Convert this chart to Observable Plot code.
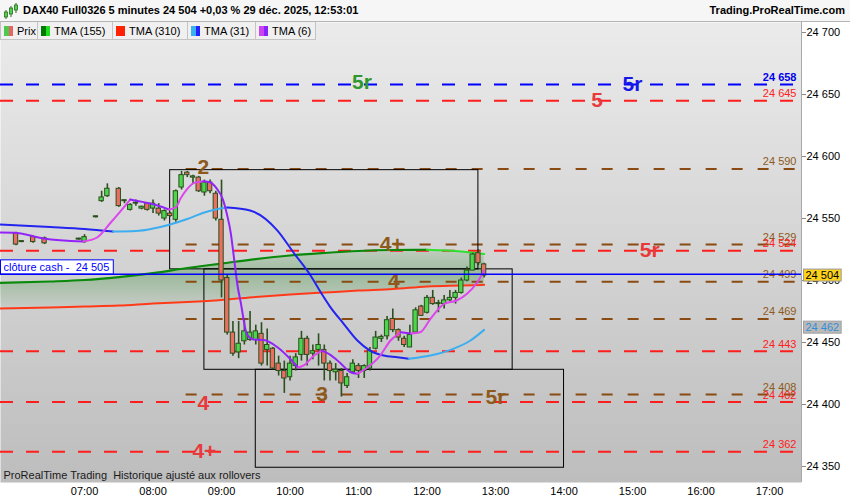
<!DOCTYPE html>
<html lang="fr">
<head>
<meta charset="utf-8">
<script src="https://cdn.jsdelivr.net/npm/d3@7"></script>
<script src="https://cdn.jsdelivr.net/npm/@observablehq/plot@0.6"></script>
<style>
html,body{margin:0;padding:0;background:#fff;}
body{width:850px;height:500px;overflow:hidden;position:relative;font-family:"Liberation Sans",Arial,sans-serif;}
#hdr{position:absolute;left:0;top:0;width:850px;height:21px;background:#f6f6f6;border-bottom:1px solid #b4b4b4;}
#hdr .t{position:absolute;left:23px;top:4px;font-size:11px;font-weight:bold;color:#000;white-space:nowrap;}
#hdr .r{position:absolute;right:5px;top:4px;font-size:11px;font-weight:bold;color:#000;}
#hdr svg{position:absolute;left:2px;top:2px;}
#chart{position:absolute;left:0;top:22px;}
#leg{position:absolute;left:0;top:22px;height:18px;display:flex;}
#leg .it{box-sizing:border-box;height:18px;border:1px solid #c4c4c4;border-top:none;background:#f0f0f0;display:flex;align-items:center;padding-left:3px;font-size:11px;color:#000;margin-right:-1px;white-space:nowrap;}
#leg .ic{display:inline-flex;width:9px;height:10px;margin-right:4px;}
#leg .ic span{flex:1;}
</style>
</head>
<body>
<div id="hdr">
  <svg width="18" height="18">
    <line x1="4" y1="8" x2="4" y2="17" stroke="#2d6a1e"/><rect x="2.5" y="10" width="3" height="5" fill="#4cd64c" stroke="#2d6a1e" stroke-width="0.8"/>
    <line x1="9" y1="4" x2="9" y2="15" stroke="#2d6a1e"/><rect x="7.5" y="6" width="3" height="6" fill="#4cd64c" stroke="#2d6a1e" stroke-width="0.8"/>
    <line x1="14" y1="1" x2="14" y2="11" stroke="#2d6a1e"/><rect x="12.5" y="3" width="3" height="5" fill="#4cd64c" stroke="#2d6a1e" stroke-width="0.8"/>
  </svg>
  <span class="t">DAX40 Full0326 5 minutes 24 504 +0,03 % 29 déc. 2025, 12:53:01</span>
  <span class="r">Trading.ProRealTime.com</span>
</div>
<div id="chart"></div>
<div id="leg">
  <div class="it" style="width:38px"><span class="ic"><span style="background:#4ec94e"></span><span style="background:#e86464"></span></span>Prix</div>
  <div class="it" style="width:76px"><span class="ic"><span style="background:#007a00"></span><span style="background:#22dd22"></span></span>TMA (155)</div>
  <div class="it" style="width:76px"><span class="ic"><span style="background:#ff2200"></span><span style="background:#ff2200"></span></span>TMA (310)</div>
  <div class="it" style="width:69px"><span class="ic"><span style="background:#3ab0f0"></span><span style="background:#2222ff"></span></span>TMA (31)</div>
  <div class="it" style="width:61px"><span class="ic"><span style="background:#cc44ee"></span><span style="background:#8822ff"></span></span>TMA (6)</div>
</div>
<script>
// ---------- DATA ----------
const candleTimes = ["06:00","06:05","06:15","06:25","06:55","07:00","07:10","07:15","07:20","07:30","07:35","07:40","07:45","07:50","07:55","08:00","08:05","08:10","08:15","08:20","08:25","08:30","08:35","08:40","08:45","08:50","08:55","09:00","09:05","09:10","09:15","09:20","09:25","09:30","09:35","09:40","09:45","09:50","09:55","10:00","10:05","10:10","10:15","10:20","10:25","10:30","10:35","10:40","10:45","10:50","10:55","11:00","11:05","11:10","11:15","11:20","11:25","11:30","11:35","11:40","11:45","11:50","11:55","12:00","12:05","12:10","12:15","12:20","12:25","12:30","12:35","12:40","12:45","12:50"];
const candleOpen = [24538,24531,24535,24534,24533,24531,24551,24564,24568,24574,24564,24557,24562,24558,24562,24558,24558,24550,24554,24549,24575,24587,24583,24583,24571,24579,24570,24549,24502,24458,24442,24451,24452,24452,24457,24444,24445,24433,24427,24422,24431,24440,24453,24441,24444,24444,24433,24426,24427,24415,24426,24431,24427,24429,24445,24453,24455,24469,24460,24453,24446,24458,24479,24474,24486,24481,24481,24484,24486,24490,24500,24508,24522,24513];
const candleHigh = [24539,24532,24536,24535,24534,24537,24552,24572,24578,24575,24565,24562,24565,24560,24563,24565,24562,24557,24555,24573,24588,24588,24585,24584,24581,24581,24572,24581,24504,24467,24467,24469,24475,24464,24466,24461,24446,24439,24435,24439,24441,24459,24455,24448,24457,24448,24435,24433,24429,24425,24436,24433,24432,24446,24459,24456,24471,24477,24461,24455,24464,24478,24480,24488,24492,24484,24488,24492,24492,24502,24511,24522,24525,24514];
const candleLow = [24528,24530.5,24530,24529,24532.5,24530,24550.5,24563,24567,24559,24562,24556,24560,24557,24556,24554,24552,24548,24551,24547,24573,24583,24578,24571,24568,24570,24548,24486,24456,24439,24437,24448,24451,24448,24431,24431,24428,24423,24409,24419,24427,24435,24431,24436,24431,24419,24419,24419,24406,24413,24425,24421,24421,24427,24444,24450,24452,24458,24451,24446,24446,24457,24471,24473,24480,24474,24477,24483,24481,24489,24499,24508,24512,24502];
const candleClose = [24529,24531.8,24531,24530,24533.8,24535,24551.8,24567,24574,24560,24564.8,24561,24562.8,24559.5,24557,24562,24554,24556,24552,24572,24585,24585,24584,24572,24579,24572,24550,24500,24458,24441,24449,24459,24458,24459,24433,24448,24429,24427,24421,24433,24438,24453,24440,24443,24448,24433,24427,24428,24417,24422,24433,24427,24431,24443,24454,24454.5,24468,24460,24454,24448,24456,24476,24471.5,24486,24481,24481.8,24484,24486,24490,24500,24508,24521,24514,24504];

const maTimes = ["05:45","06:30","07:00","07:30","08:00","08:30","09:00","09:30","10:00","10:30","11:00","11:30","12:00","12:30","12:50"];
const tma155 = [24498.0,24499.2,24500.4,24502.8,24506.0,24510.1,24513.7,24517.3,24520.2,24522.2,24523.8,24524.6,24524.8,24523.4,24521.4];
const tma310 = [24477.4,24478.2,24479.0,24479.8,24481.5,24482.7,24484.3,24486.7,24488.7,24490.3,24491.9,24493.1,24495.2,24496.0,24496.5];

const tma31Times = ["05:45","06:30","07:00","07:25","07:45","08:00","08:15","08:30","08:45","08:55","09:05","09:25","09:49","10:03","10:18","10:27","10:35","10:47","10:59","11:10","11:22","11:34","11:44","12:03","12:23","12:38","12:50"];
const tma31 = [24545.2,24543.1,24541.5,24539.5,24539.9,24541.9,24545.2,24549.6,24554.8,24557.3,24558.9,24556.5,24540.3,24522.6,24504.0,24490.3,24479.0,24465.1,24451.6,24443.5,24439.5,24438.1,24436.9,24439.5,24444.9,24451.6,24460.2];

const tma6Times = ["05:45","05:58","06:24","06:59","07:11","07:23","07:40","07:53","08:04","08:14","08:20","08:24","08:30","08:36","08:44","08:50","08:56","09:01","09:05","09:08","09:11","09:14","09:17","09:20","09:22","09:28","09:37","09:49","10:00","10:07","10:12","10:21","10:28","10:35","10:44","10:53","10:59","11:08","11:19","11:28","11:37","11:46","11:54","12:03","12:15","12:26","12:35","12:44","12:50"];
const tma6 = [24538.7,24538.6,24533.9,24531.5,24534.7,24546.8,24565.3,24562.9,24560.5,24557.3,24559.1,24565.9,24573.9,24578.8,24580.1,24579.3,24573.9,24565.9,24552.4,24538.9,24517.5,24496.0,24481.5,24465.1,24457.0,24452.4,24452.0,24446.2,24436.9,24429.8,24431.5,24439.5,24443.5,24440.3,24433.5,24426.0,24424.8,24430.1,24439.5,24451.6,24458.3,24457.3,24458.3,24469.1,24481.2,24483.9,24489.3,24498.6,24508.1];

const redLevels = [24645, 24524, 24443, 24402, 24362];
const brownLevels = [24590, 24529, 24499, 24469, 24408];
const blueLevels = [24658];
const brownStart = "08:29";
const cashClose = 24505;
const lastPrice = 24504;
const lastTma31 = 24462;

const boxStart = ["08:15","08:45","09:30"];
const boxEnd = ["12:45","13:15","14:00"];
const boxTop = [24589, 24509, 24428];
const boxBottom = [24509, 24428, 24349];

const labelTexts = ["5r","5r","5","2","4+","5r","4","3","5r","4","4+"];
const labelTimes = ["11:03","15:00","14:29","08:44","11:29","15:15","11:31","10:28","13:00","08:44","08:45"];
const labelLevels = [24660, 24658, 24645, 24591, 24529, 24524, 24499, 24408, 24406, 24401, 24362];
const labelKinds = ["green","blue","red","brown","brown","red","brown","brown","brown","red","red"];

const xTicks = ["07:00","08:00","09:00","10:00","11:00","12:00","13:00","14:00","15:00","16:00","17:00"];
const yTicks = [24350,24400,24450,24500,24550,24600,24650,24700];
const xDomain = ["05:46","17:28"];
const yDomain = [24337.1, 24708.1];

// ---------- HELPERS ----------
const toMin = s => { const [h, m] = s.split(":").map(Number); return h * 60 + m; };
const fmtPrice = v => d3.format(",")(v).replace(/,/g, " ");
const fmtTime = m => String(Math.floor(m / 60)).padStart(2, "0") + ":" + String(m % 60).padStart(2, "0");
const xMin = toMin(xDomain[0]) + 0.4, xMax = toMin(xDomain[1]);

const candles = candleTimes.map((t, i) => ({t: toMin(t), open: candleOpen[i], high: candleHigh[i], low: candleLow[i], close: candleClose[i]}));
const maData = maTimes.map((t, i) => ({t: toMin(t), a: tma155[i], b: tma310[i]}));

function segments(times, values, upColor, downColor, name) {
  const out = [];
  let run = 0, prev = null;
  for (let i = 1; i < times.length; i++) {
    const dir = values[i] >= values[i - 1] ? "up" : "down";
    const c = dir === "up" ? upColor : downColor;
    if (dir !== prev) { run++; out.push({t: toMin(times[i - 1]), v: values[i - 1], run: name + run, c}); prev = dir; }
    out.push({t: toMin(times[i]), v: values[i], run: name + run, c});
  }
  return out;
}
const seg155 = segments(maTimes, tma155, "#0a8a0a", "#2ee02e", "g");
const seg31 = segments(tma31Times, tma31, "#3aaef0", "#2424f0", "b");
const seg6 = segments(tma6Times, tma6, "#dc46ec", "#9324f8", "p");

const kindColor = {green: "#2f972f", blue: "#1616e8", red: "#e83a3a", brown: "#8e5a1c"};
const bigLabels = labelTexts.map((s, i) => ({s, t: toMin(labelTimes[i]), v: labelLevels[i], c: kindColor[labelKinds[i]]}));
const boxes = boxStart.map((s, i) => ({x1: toMin(s), x2: toMin(boxEnd[i]), y1: boxBottom[i], y2: boxTop[i]}));

const wick = "#2b4f1d";
const hw = 1.9;

const plot = Plot.plot({
  width: 850, height: 478,
  marginTop: 0, marginBottom: 18, marginLeft: 0, marginRight: 49,
  style: {fontFamily: "'Liberation Sans', Arial, sans-serif", fontSize: "11px", background: "transparent", color: "#000", overflow: "visible"},
  x: {domain: [xMin, xMax], axis: null},
  y: {domain: yDomain, axis: null},
  color: {type: "identity"},
  marks: [
    Plot.frame({fill: "url(#bgGrad)", stroke: "none"}),
    Plot.areaY(maData, {x: "t", y1: "b", y2: "a", fill: "url(#shadeGrad)", curve: "monotone-x"}),
    Plot.ruleY(brownLevels, {x1: () => toMin(brownStart), x2: () => xMax, stroke: "#8a4b12", strokeWidth: 2, strokeDasharray: "11,15"}),
    Plot.ruleY(redLevels, {stroke: "#ff1e1e", strokeWidth: 2, strokeDasharray: "13,13"}),
    Plot.ruleY(blueLevels, {stroke: "#0000ff", strokeWidth: 2, strokeDasharray: "13,13"}),
    Plot.rect(boxes, {x1: "x1", x2: "x2", y1: "y1", y2: "y2", fill: "none", stroke: "#000", strokeWidth: 1}),
    Plot.line(maData, {x: "t", y: "b", stroke: "#ff3a18", strokeWidth: 2, curve: "monotone-x"}),
    Plot.line(seg155, {x: "t", y: "v", z: "run", stroke: "c", strokeWidth: 2.2, curve: "monotone-x"}),
    Plot.ruleX(candles, {x: "t", y1: "low", y2: "high", stroke: wick, strokeWidth: 1.6}),
    Plot.rect(candles, {x1: d => d.t - hw, x2: d => d.t + hw, y1: "open", y2: "close", fill: d => d.close >= d.open ? "#4cd64c" : "#ea6e62", stroke: wick, strokeWidth: 1}),
    Plot.line(seg31, {x: "t", y: "v", z: "run", stroke: "c", strokeWidth: 2, curve: "monotone-x"}),
    Plot.line(seg6, {x: "t", y: "v", z: "run", stroke: "c", strokeWidth: 2, curve: "monotone-x"}),
    Plot.text(bigLabels, {x: "t", y: "v", text: "s", fill: "c", fontSize: 21, fontWeight: "bold", textAnchor: "middle", lineAnchor: "middle"}),
    Plot.text(brownLevels, {x: () => xMax, y: d => d, text: fmtPrice, textAnchor: "end", dx: -5, dy: -7, fill: "#8e5a22", fontSize: 11}),
    Plot.text(redLevels, {x: () => xMax, y: d => d, text: fmtPrice, textAnchor: "end", dx: -5, dy: -7, fill: "#ff2020", fontSize: 11}),
    Plot.text(blueLevels, {x: () => xMax, y: d => d, text: fmtPrice, textAnchor: "end", dx: -5, dy: -7, fill: "#0000ee", fontSize: 11, fontWeight: "bold"}),
    Plot.ruleY([cashClose], {stroke: "#0000ff", strokeWidth: 1.6}),
    Plot.text([cashClose], {x: () => xMin, y: d => d, text: d => "clôture cash - \u00a0" + fmtPrice(d), textAnchor: "start", dx: 3, dy: -7, fill: "#0000ff", fontSize: 11}),
    Plot.text(["ProRealTime Trading  Historique ajusté aux rollovers"], {frameAnchor: "bottom-left", dx: 3, dy: -4, textAnchor: "start", lineAnchor: "bottom", fill: "#1a1a1a", fontSize: 11}),
    Plot.ruleX([xMax], {stroke: "#a8a8a8", strokeWidth: 1}),
    Plot.axisY(yTicks, {anchor: "right", tickSize: 4, tickPadding: 1, tickFormat: fmtPrice, stroke: "#888", fill: "#000", fontSize: 11}),
    Plot.axisX(xTicks.map(toMin), {anchor: "bottom", tickSize: 0, tickPadding: 5, tickFormat: fmtTime, fill: "#000", fontSize: 11}),
    Plot.text([lastPrice], {x: () => xMax, y: d => d, text: fmtPrice, textAnchor: "start", dx: 4, fill: "#000", fontSize: 11}),
    Plot.text([lastTma31], {x: () => xMax, y: d => d, text: fmtPrice, textAnchor: "start", dx: 4, fill: "#2f8fd6", fontSize: 11})
  ]
});

document.getElementById("chart").appendChild(plot);
const svg = plot.tagName.toLowerCase() === "svg" ? plot : plot.querySelector("svg");
const NS = "http://www.w3.org/2000/svg";
const defs = document.createElementNS(NS, "defs");
defs.innerHTML = `
<linearGradient id="bgGrad" x1="0" y1="0" x2="0" y2="1">
  <stop offset="0" stop-color="#ebebeb"/><stop offset="1" stop-color="#bdbdbd"/>
</linearGradient>
<linearGradient id="shadeGrad" x1="0" y1="0" x2="0" y2="1">
  <stop offset="0" stop-color="#3f9a3f" stop-opacity="0.14"/>
  <stop offset="0.42" stop-color="#2f8a2f" stop-opacity="0.34"/>
  <stop offset="1" stop-color="#2f8a2f" stop-opacity="0.04"/>
</linearGradient>`;
svg.insertBefore(defs, svg.firstChild);

function addBg(match, opts) {
  const sr = svg.getBoundingClientRect();
  svg.querySelectorAll("text").forEach(t => {
    if (t.textContent !== match) return;
    const b = t.getBoundingClientRect();
    const r = document.createElementNS(NS, "rect");
    const x = opts.x0 !== undefined ? opts.x0 : b.left - sr.left - opts.px;
    const w = (b.right - sr.left + opts.px) - x;
    r.setAttribute("x", x);
    r.setAttribute("y", b.top - sr.top - opts.py);
    r.setAttribute("width", w);
    r.setAttribute("height", b.height + 2 * opts.py);
    r.setAttribute("fill", opts.fill);
    r.setAttribute("stroke", opts.stroke);
    r.setAttribute("stroke-width", "1");
    let g = t; while (g.parentNode !== svg) g = g.parentNode;
    svg.insertBefore(r, g);
  });
}
addBg("clôture cash - \u00a0" + fmtPrice(cashClose), {x0: 0.5, px: 4, py: 1, fill: "#ffffff", stroke: "#0000ff"});
const lastTxt = Array.from(svg.querySelectorAll("text")).filter(t => t.textContent === fmtPrice(lastPrice));
if (lastTxt.length) {
  const t = lastTxt[lastTxt.length - 1];
  const sr = svg.getBoundingClientRect(), b = t.getBoundingClientRect();
  const r = document.createElementNS(NS, "rect");
  r.setAttribute("x", b.left - sr.left - 2); r.setAttribute("y", b.top - sr.top);
  r.setAttribute("width", b.width + 4); r.setAttribute("height", b.height);
  r.setAttribute("fill", "#ffd21e"); r.setAttribute("stroke", "#9a9a9a");
  let g = t; while (g.parentNode !== svg) g = g.parentNode;
  svg.insertBefore(r, g);
}
const tmaTxt = Array.from(svg.querySelectorAll("text")).filter(t => t.textContent === fmtPrice(lastTma31));
if (tmaTxt.length) {
  const t = tmaTxt[tmaTxt.length - 1];
  const sr = svg.getBoundingClientRect(), b = t.getBoundingClientRect();
  const r = document.createElementNS(NS, "rect");
  r.setAttribute("x", b.left - sr.left - 2); r.setAttribute("y", b.top - sr.top);
  r.setAttribute("width", b.width + 4); r.setAttribute("height", b.height);
  r.setAttribute("fill", "#b9b9b9"); r.setAttribute("stroke", "#a0a0a0");
  let g = t; while (g.parentNode !== svg) g = g.parentNode;
  svg.insertBefore(r, g);
}
</script>
</body>
</html>
